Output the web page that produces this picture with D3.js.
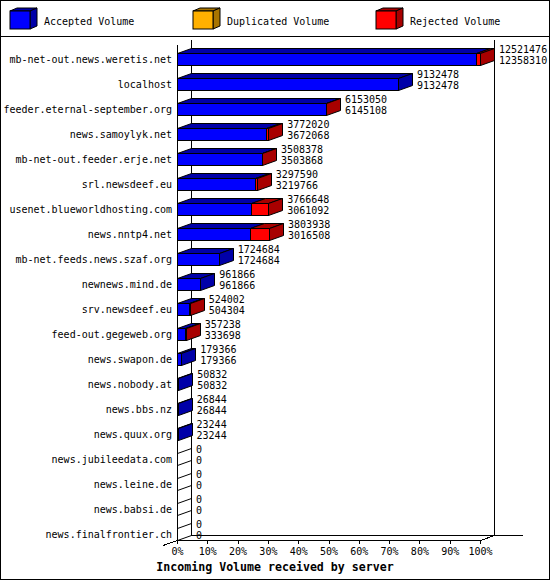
<!DOCTYPE html>
<html>
<head>
<meta charset="utf-8">
<script src="https://cdn.jsdelivr.net/npm/d3@7"></script>
<style>
  body { margin: 0; background: #fff; }
  text { font-family: "DejaVu Sans Mono", monospace; font-size: 10px; fill: #000; }
</style>
</head>
<body>
<div id="wrapper"></div>
<script>
// 1. Data

const servers = [
  "mb-net-out.news.weretis.net", "localhost", "feeder.eternal-september.org",
  "news.samoylyk.net", "mb-net-out.feeder.erje.net", "srl.newsdeef.eu",
  "usenet.blueworldhosting.com", "news.nntp4.net", "mb-net.feeds.news.szaf.org",
  "newnews.mind.de", "srv.newsdeef.eu", "feed-out.gegeweb.org", "news.swapon.de",
  "news.nobody.at", "news.bbs.nz", "news.quux.org", "news.jubileedata.com",
  "news.leine.de", "news.babsi.de", "news.finalfrontier.ch"
]
const acceptedVolume = [12358310, 9132478, 6145108, 3672068, 3503868, 3219766, 3061092, 3016508,
  1724684, 961866, 504304, 333698, 179366, 50832, 26844, 23244, 0, 0, 0, 0]
const duplicatedVolume = [0, 0, 0, 0, 0, 0, 0, 0, 0, 0, 0, 0, 0, 0, 0, 0, 0, 0, 0, 0]
const rejectedVolume = [163166, 0, 7942, 99952, 4510, 77824, 705556, 787430,
  0, 0, 19698, 23540, 0, 0, 0, 0, 0, 0, 0, 0]

const seriesNames = ["Accepted Volume", "Duplicated Volume", "Rejected Volume"]
const seriesColors = ["#0000ff", "#ffb000", "#ff0000"]
const seriesShades = ["#0000a8", "#a87400", "#a80000"]
const percentTicks = [0, 0.1, 0.2, 0.3, 0.4, 0.5, 0.6, 0.7, 0.8, 0.9, 1]
const axisTitle = "Incoming Volume received by server"

// 2. Dimensions

const width = 550
const height = 580
const depth = { x: 14, y: 5 }
const front = { left: 177, right: 480, top: 45, bottom: 540 }
const barHeight = 12

const rows = servers.map((name, i) => {
  const values = [acceptedVolume[i], duplicatedVolume[i], rejectedVolume[i]]
  let start = 0
  const segments = values.map((v, k) => {
    const seg = { k, start, end: start + v }
    start += v
    return seg
  })
  return { name, accepted: acceptedVolume[i], total: start, segments }
})

// 3. Canvas

const svg = d3.select("#wrapper").append("svg")
  .attr("width", width)
  .attr("height", height)
  .style("display", "block")

svg.append("rect")
  .attr("x", 0.5).attr("y", 0.5)
  .attr("width", width - 1).attr("height", height - 1)
  .attr("fill", "#fff").attr("stroke", "#000")

svg.append("line")
  .attr("x1", 0).attr("x2", width)
  .attr("y1", 36.5).attr("y2", 36.5)
  .attr("stroke", "#000")

// legend
const legend = svg.append("g").selectAll("g")
  .data(seriesNames)
  .join("g")
  .attr("transform", (d, i) => `translate(${10 + i * 183},11)`)

legend.append("polygon")
  .attr("points", "0,0 7,-3 27,-3 20,0")
  .attr("fill", (d, i) => seriesShades[i]).attr("stroke", "#000")
legend.append("polygon")
  .attr("points", "20,0 27,-3 27,15 20,18")
  .attr("fill", (d, i) => seriesShades[i]).attr("stroke", "#000")
legend.append("rect")
  .attr("width", 20).attr("height", 18)
  .attr("fill", (d, i) => seriesColors[i]).attr("stroke", "#000")
legend.append("text")
  .attr("x", 34).attr("y", 10)
  .attr("dominant-baseline", "central")
  .text(d => d)

// 4. Scales

const xScale = d3.scaleLinear()
  .domain([0, d3.max(rows, d => d.total)])
  .range([front.left, front.right])

const pctScale = d3.scaleLinear()
  .domain([0, 1])
  .range([front.left, front.right])

const yScale = d3.scaleBand()
  .domain(servers)
  .range([40, front.bottom])
  .paddingInner(0.52)
  .paddingOuter(0.26)
  .align(1)

// 5. Walls

const walls = svg.append("g")
  .attr("stroke", "#000")
  .attr("shape-rendering", "crispEdges")

const backLeft = front.left + depth.x
const backRight = front.right + depth.x
const backBottom = front.bottom - depth.y

walls.append("line")
  .attr("x1", front.left + 0.5).attr("x2", front.left + 0.5)
  .attr("y1", front.top).attr("y2", front.bottom)
walls.append("line")
  .attr("x1", backLeft + 0.5).attr("x2", backLeft + 0.5)
  .attr("y1", 40).attr("y2", backBottom)
walls.append("line")
  .attr("x1", backRight + 0.5).attr("x2", backRight + 0.5)
  .attr("y1", 40).attr("y2", backBottom)
walls.append("line")
  .attr("x1", backLeft).attr("x2", backRight + 29)
  .attr("y1", backBottom + 0.5).attr("y2", backBottom + 0.5)
walls.append("line")
  .attr("x1", front.right + 0.5).attr("y1", front.bottom + 0.5)
  .attr("x2", backRight + 0.5).attr("y2", backBottom + 0.5)
walls.append("line")
  .attr("x1", front.left - depth.x).attr("y1", front.bottom + depth.y + 0.5)
  .attr("x2", front.left + 0.5).attr("y2", front.bottom + 0.5)

// 6. Bars

const bars = svg.append("g").attr("stroke", "#000").attr("stroke-width", 1)

rows.forEach(row => {
  const yt = yScale(row.name) + 0.5
  const yb = yt + barHeight
  const filled = row.segments.filter(s => s.end > s.start)

  if (filled.length === 0) {
    const x0 = xScale(0) + 0.5
    bars.append("polygon")
      .attr("points", [[x0, yt], [x0 + depth.x, yt - depth.y], [x0 + depth.x, yb - depth.y], [x0, yb]].join(" "))
      .attr("fill", "none")
    return
  }

  filled.forEach((s, j) => {
    const x0 = Math.round(xScale(s.start)) + 0.5
    const x1 = Math.round(xScale(s.end)) + 0.5
    bars.append("polygon")
      .attr("points", [[x0, yt], [x0 + depth.x, yt - depth.y], [x1 + depth.x, yt - depth.y], [x1, yt]].join(" "))
      .attr("fill", seriesShades[s.k])
    bars.append("rect")
      .attr("x", x0).attr("y", yt)
      .attr("width", x1 - x0).attr("height", barHeight)
      .attr("fill", seriesColors[s.k])
    if (j === filled.length - 1) {
      bars.append("polygon")
        .attr("points", [[x1, yt], [x1 + depth.x, yt - depth.y], [x1 + depth.x, yb - depth.y], [x1, yb]].join(" "))
        .attr("fill", seriesShades[s.k])
    }
  })
})

// value labels
const labels = svg.append("g")
rows.forEach(row => {
  const yt = yScale(row.name)
  const lx = xScale(row.total) + depth.x + 5
  labels.append("text")
    .attr("x", lx).attr("y", yt - 3.3)
    .attr("dominant-baseline", "central")
    .text(row.total)
  labels.append("text")
    .attr("x", lx).attr("y", yt + 7.7)
    .attr("dominant-baseline", "central")
    .text(row.accepted)
})

// category labels
svg.append("g").selectAll("text")
  .data(servers)
  .join("text")
  .attr("x", front.left - 5)
  .attr("y", d => yScale(d) + barHeight / 2)
  .attr("text-anchor", "end")
  .attr("dominant-baseline", "central")
  .text(d => d)

// 7. Axis

const xAxisGen = d3.axisBottom(pctScale)
  .tickValues(percentTicks)
  .tickFormat(d3.format(".0%"))
  .tickSize(4)
  .tickSizeOuter(0)
  .tickPadding(4)

const axisX = svg.append("g")
  .attr("transform", `translate(0,${front.bottom})`)
  .call(xAxisGen)
axisX.attr("font-family", null).attr("font-size", null)
axisX.selectAll("line, path").attr("stroke", "#000").attr("shape-rendering", "crispEdges")

svg.append("text")
  .attr("x", width / 2)
  .attr("y", 567)
  .attr("text-anchor", "middle")
  .attr("dominant-baseline", "central")
  .style("font-size", "11.6px")
  .style("font-weight", "bold")
  .text(axisTitle)
</script>
</body>
</html>
